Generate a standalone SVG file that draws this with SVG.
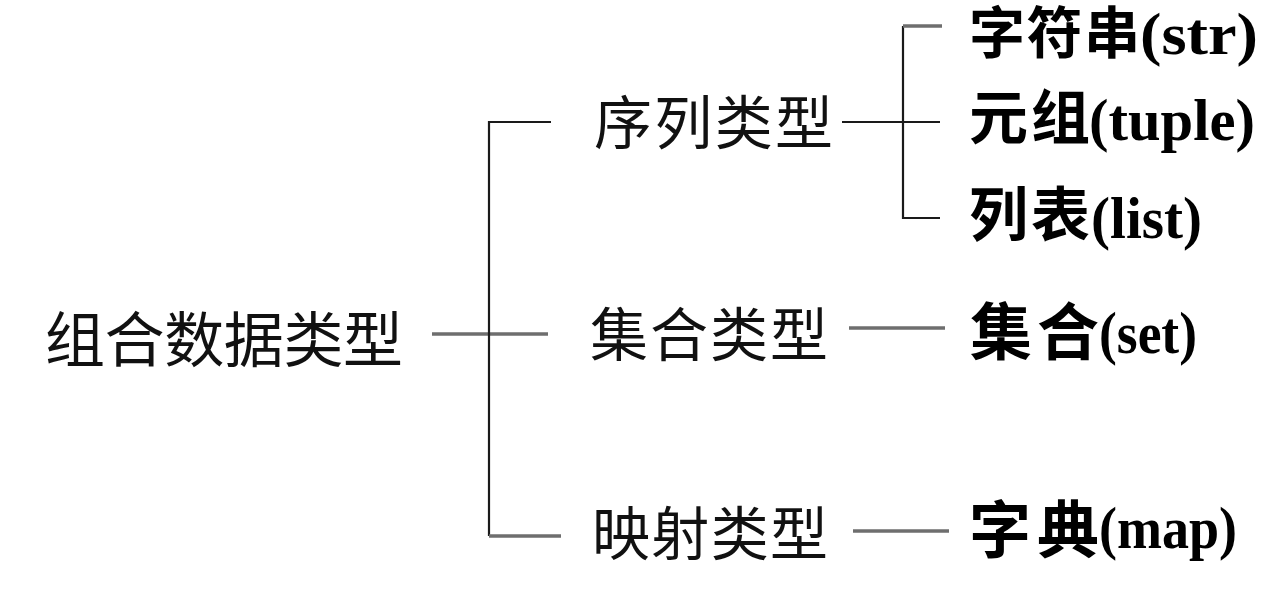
<svg xmlns="http://www.w3.org/2000/svg" width="1275" height="593" viewBox="0 0 1275 593">
<style>
.bg{fill:#ffffff}
.ln{stroke:#1a1a1a;stroke-width:2.2;fill:none}
.lg{stroke:#6e6e6e;stroke-width:3.5;fill:none}
.mid{font-family:"Noto Sans CJK SC","Noto Sans CJK JP",sans-serif;font-size:58px;fill:#111}
.cjk{font-family:"Noto Sans CJK SC","Noto Sans CJK JP",sans-serif;font-size:56px;font-weight:bold;fill:#000}
.lat{font-family:"Liberation Serif","Times New Roman",serif;font-size:60px;font-weight:bold;fill:#000}
</style>
<rect class="bg" x="0" y="0" width="1275" height="593"/>
<g id="connectors">
  <line class="lg" x1="432" y1="334" x2="548" y2="334"/>
  <path class="ln" d="M551 122 H489 V536"/>
  <line class="lg" x1="489" y1="536" x2="561" y2="536"/>
  <line class="ln" x1="842" y1="122" x2="940" y2="122"/>
  <path class="ln" d="M940 218 H903 V26"/>
  <line class="lg" x1="903" y1="26" x2="942" y2="26"/>
  <line class="lg" x1="849" y1="328" x2="945" y2="328"/>
  <line class="lg" x1="853" y1="531" x2="949" y2="531"/>
</g>
<g id="root"><text class="mid" x="45" y="362" textLength="358" lengthAdjust="spacing" style="font-size:60px">组合数据类型</text></g>
<g id="seq"><text class="mid" x="594" y="144" textLength="239" lengthAdjust="spacing">序列类型</text></g>
<g id="set-type"><text class="mid" x="590" y="356" textLength="238" lengthAdjust="spacing">集合类型</text></g>
<g id="map-type"><text class="mid" x="592" y="555" textLength="236" lengthAdjust="spacing">映射类型</text></g>
<g id="str"><text class="cjk" x="969" y="53" textLength="171" lengthAdjust="spacing">字符串</text><text class="lat" x="1140" y="54" textLength="118" lengthAdjust="spacingAndGlyphs">(str)</text></g>
<g id="tuple"><text class="cjk" x="969" y="139" textLength="121" lengthAdjust="spacing" style="font-size:59px">元组</text><text class="lat" x="1089" y="140" textLength="166" lengthAdjust="spacingAndGlyphs">(tuple)</text></g>
<g id="list"><text class="cjk" x="969" y="236" textLength="121" lengthAdjust="spacing" style="font-size:59px">列表</text><text class="lat" x="1091" y="238" textLength="111" lengthAdjust="spacingAndGlyphs">(list)</text></g>
<g id="set"><text class="cjk" x="970" y="355" textLength="129" lengthAdjust="spacing" style="font-size:62px">集合</text><text class="lat" x="1099" y="353" textLength="98" lengthAdjust="spacingAndGlyphs">(set)</text></g>
<g id="map"><text class="cjk" x="969" y="553" textLength="130" lengthAdjust="spacing" style="font-size:62px">字典</text><text class="lat" x="1099" y="548" textLength="138" lengthAdjust="spacingAndGlyphs">(map)</text></g>
</svg>
